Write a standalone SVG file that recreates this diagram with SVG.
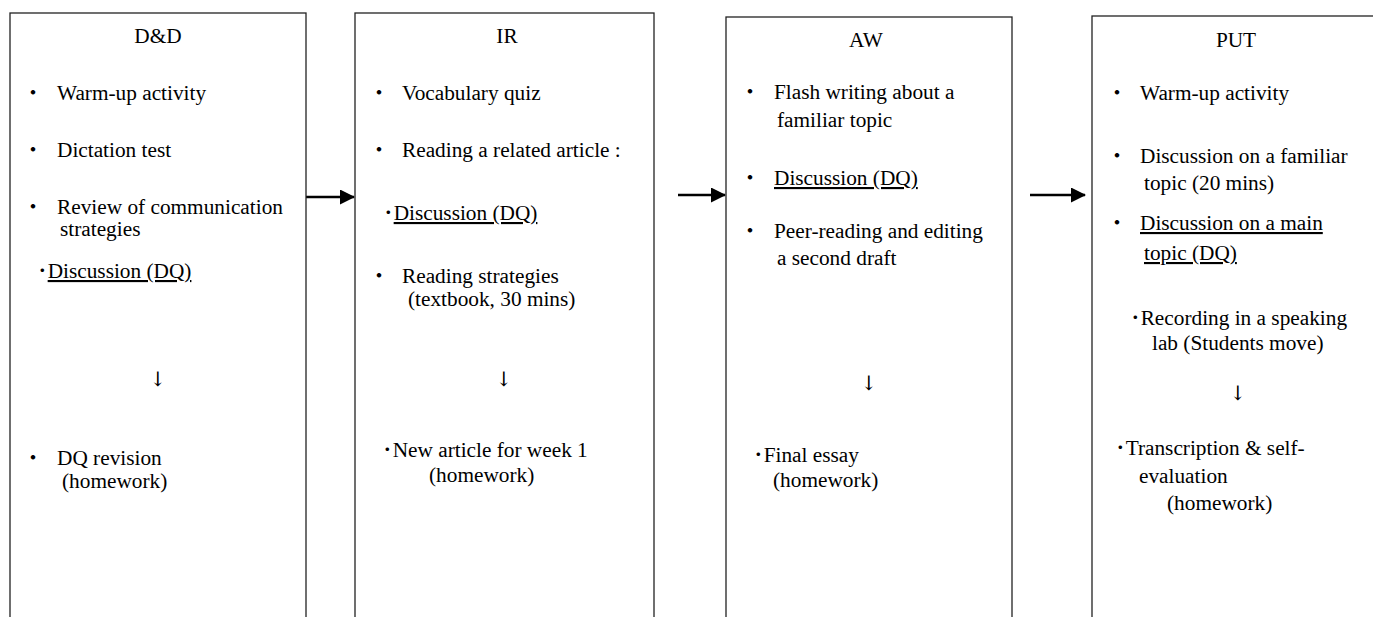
<svg xmlns="http://www.w3.org/2000/svg" width="1373" height="617" viewBox="0 0 1373 617">
<defs>
<style>
.box{fill:#fff;stroke:#222;stroke-width:1.3}
.t{font-family:"Liberation Serif","Times New Roman","Noto Sans CJK JP",serif;font-size:21.3px;fill:#000}
.c{text-anchor:middle}
.b{font-family:"Noto Sans CJK JP","Liberation Serif",sans-serif;font-size:21px;fill:#000;text-anchor:middle}
.ar{font-family:"DejaVu Serif","DejaVu Sans",serif;font-size:20px;fill:#000;text-anchor:middle}
.u{text-decoration:underline}
.conn{stroke:#000;stroke-width:2.5;fill:none}
</style>
<marker id="ah" markerWidth="6" markerHeight="6" refX="5.6" refY="3" orient="auto" markerUnits="strokeWidth">
<path d="M0,0 L6,3 L0,6 Z" fill="#000"/>
</marker>
</defs>
<rect width="1373" height="617" fill="#fff"/>

<g id="connectors">
<line class="conn" x1="306" y1="197" x2="354" y2="197" marker-end="url(#ah)"/>
<line class="conn" x1="678" y1="195" x2="725" y2="195" marker-end="url(#ah)"/>
<line class="conn" x1="1030" y1="195" x2="1085" y2="195" marker-end="url(#ah)"/>
</g>

<g id="node-dd">
<rect class="box" x="10" y="13" width="296" height="640"/>
<text class="t c" x="158" y="43">D&amp;D</text>
<text class="b" x="33" y="100">・</text>
<text class="t" x="57" y="100">Warm-up activity</text>
<text class="b" x="33" y="157">・</text>
<text class="t" x="57" y="157">Dictation test</text>
<text class="b" x="33" y="214">・</text>
<text class="t" x="57" y="214">Review of communication</text>
<text class="t" x="60" y="236">strategies</text>
<text class="t" x="37" y="278">･<tspan class="u">Discussion (DQ)</tspan></text>
<text class="ar" x="158" y="386">↓</text>
<text class="b" x="33" y="465">・</text>
<text class="t" x="57" y="465">DQ revision</text>
<text class="t" x="62" y="488">(homework)</text>
</g>

<g id="node-ir">
<rect class="box" x="355" y="13" width="299" height="640"/>
<text class="t c" x="507" y="43">IR</text>
<text class="b" x="379" y="100">・</text>
<text class="t" x="402" y="100">Vocabulary quiz</text>
<text class="b" x="379" y="157">・</text>
<text class="t" x="402" y="157">Reading a related article :</text>
<text class="t" x="383" y="220">･<tspan class="u">Discussion (DQ)</tspan></text>
<text class="b" x="379" y="283">・</text>
<text class="t" x="402" y="283">Reading strategies</text>
<text class="t" x="408" y="306">(textbook, 30 mins)</text>
<text class="ar" x="504" y="386">↓</text>
<text class="t" x="382" y="457">･New article for week 1</text>
<text class="t" x="429" y="482">(homework)</text>
</g>

<g id="node-aw">
<rect class="box" x="726" y="17" width="286" height="640"/>
<text class="t c" x="866" y="47">AW</text>
<text class="b" x="750" y="99">・</text>
<text class="t" x="774" y="99">Flash writing about a</text>
<text class="t" x="777" y="127">familiar topic</text>
<text class="b" x="750" y="185">・</text>
<text class="t u" x="774" y="185">Discussion (DQ)</text>
<text class="b" x="750" y="238">・</text>
<text class="t" x="774" y="238">Peer-reading and editing</text>
<text class="t" x="777" y="265">a second draft</text>
<text class="ar" x="869" y="390">↓</text>
<text class="t" x="753" y="462">･Final essay</text>
<text class="t" x="773" y="487">(homework)</text>
</g>

<g id="node-put">
<rect class="box" x="1092" y="16" width="300" height="640"/>
<text class="t c" x="1236" y="47">PUT</text>
<text class="b" x="1117" y="100">・</text>
<text class="t" x="1140" y="100">Warm-up activity</text>
<text class="b" x="1117" y="163">・</text>
<text class="t" x="1140" y="163">Discussion on a familiar</text>
<text class="t" x="1144" y="190">topic (20 mins)</text>
<text class="b" x="1117" y="230">・</text>
<text class="t u" x="1140" y="230">Discussion on a main</text>
<text class="t u" x="1144" y="260">topic (DQ)</text>
<text class="t" x="1130" y="325">･Recording in a speaking</text>
<text class="t" x="1152" y="350">lab (Students move)</text>
<text class="ar" x="1238" y="400">↓</text>
<text class="t" x="1115" y="455">･Transcription &amp; self-</text>
<text class="t" x="1139" y="483">evaluation</text>
<text class="t" x="1167" y="510">(homework)</text>
</g>
</svg>
